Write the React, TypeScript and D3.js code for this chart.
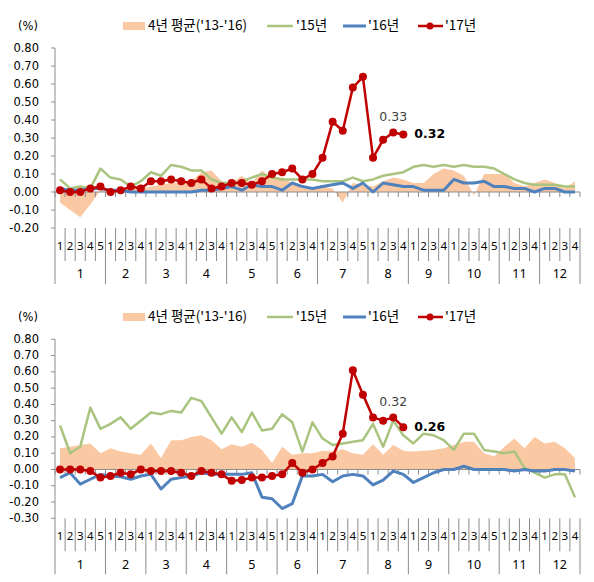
import * as d3 from 'd3';

// weeks in each month (category axis)
const weeksPerMonth = [5, 4, 4, 4, 5, 4, 5, 4, 4, 5, 4, 4];
const monthLabels = ['1', '2', '3', '4', '5', '6', '7', '8', '9', '10', '11', '12'];
const weekLabels = weeksPerMonth.flatMap((n) => d3.range(1, n + 1).map(String));

const seriesNames = ["4년 평균('13-'16)", "'15년", "'16년", "'17년"];

// upper panel
const avgTop = [
  -0.06, -0.10, -0.14, -0.07, 0.01,
  0.00, 0.01, 0.02, 0.02,
  0.03, 0.04, 0.05, 0.05,
  0.06, 0.11, 0.12, 0.06,
  0.05, 0.09, 0.05, 0.12, 0.08,
  0.08, 0.05, 0.02, 0.02,
  0.03, 0.02, -0.06, 0.05, 0.04,
  0.03, 0.06, 0.08, 0.07,
  0.05, 0.05, 0.10, 0.13,
  0.12, 0.09, -0.02, 0.10, 0.10,
  0.10, 0.05, 0.03, 0.05,
  0.07, 0.05, 0.02, 0.06,
];
const y15Top = [
  0.07, 0.02, 0.03, 0.02, 0.13,
  0.08, 0.07, 0.03, 0.06,
  0.11, 0.09, 0.15, 0.14,
  0.12, 0.12, 0.07, 0.05,
  0.05, 0.06, 0.08, 0.10, 0.08,
  0.07, 0.07, 0.07, 0.07,
  0.06, 0.06, 0.06, 0.08, 0.06,
  0.07, 0.09, 0.10, 0.11,
  0.14, 0.15, 0.14, 0.15,
  0.14, 0.15, 0.14, 0.14, 0.13,
  0.10, 0.07, 0.05, 0.04,
  0.04, 0.04, 0.03, 0.03,
];
const y16Top = [
  0.02, 0.01, 0.01, 0.02, 0.02,
  0.01, 0.01, 0.00, 0.00,
  0.00, 0.00, 0.00, 0.00,
  0.00, 0.01, 0.01, 0.02,
  0.03, 0.01, 0.04, 0.03, 0.03,
  0.01, 0.05, 0.03, 0.02,
  0.03, 0.04, 0.05, 0.02, 0.05,
  0.00, 0.05, 0.04, 0.03,
  0.03, 0.01, 0.01, 0.01,
  0.07, 0.05, 0.05, 0.06, 0.03,
  0.03, 0.02, 0.02, 0.00,
  0.02, 0.02, 0.00, 0.00,
];
const y17Top = [
  0.01, 0.00, 0.00, 0.02, 0.03,
  0.00, 0.01, 0.03, 0.02,
  0.06, 0.06, 0.07, 0.06,
  0.05, 0.07, 0.02, 0.03,
  0.05, 0.05, 0.04, 0.06, 0.10,
  0.11, 0.13, 0.07, 0.10,
  0.19, 0.39, 0.34, 0.58, 0.64,
  0.19, 0.29, 0.33, 0.32,
];

// lower panel
const avgBottom = [
  0.13, 0.14, 0.15, 0.16, 0.10,
  0.13, 0.11, 0.10, 0.09,
  0.16, 0.07, 0.18, 0.18,
  0.20, 0.21, 0.18, 0.125,
  0.155, 0.14, 0.165, 0.12, 0.04,
  0.14, 0.09, 0.10, 0.10,
  0.115, 0.11, 0.125, 0.10, 0.09,
  0.155, 0.09, 0.15, 0.115,
  0.11, 0.115, 0.12, 0.13,
  0.15, 0.17, 0.17, 0.10, 0.08,
  0.14, 0.19, 0.13, 0.20,
  0.16, 0.17, 0.13, 0.07,
];
const y15Bottom = [
  0.27, 0.10, 0.14, 0.38, 0.25,
  0.28, 0.32, 0.25, 0.30,
  0.35, 0.34, 0.36, 0.35,
  0.44, 0.42, 0.32, 0.22,
  0.32, 0.23, 0.35, 0.24, 0.25,
  0.34, 0.29, 0.11, 0.29,
  0.19, 0.15, 0.16, 0.17, 0.18,
  0.28, 0.14, 0.30, 0.21,
  0.16, 0.22, 0.21, 0.18,
  0.12, 0.22, 0.22, 0.12, 0.11,
  0.10, 0.11, 0.01, -0.02,
  -0.05, -0.03, -0.03, -0.17,
];
const y16Bottom = [
  -0.05, -0.02, -0.09, -0.06, -0.03,
  -0.04, -0.045, -0.06, -0.04,
  -0.03, -0.12, -0.06, -0.05,
  -0.04, -0.02, -0.03, -0.03,
  -0.03, -0.03, -0.02, -0.17, -0.18,
  -0.24, -0.21, -0.04, -0.04,
  -0.03, -0.075, -0.04, -0.03, -0.04,
  -0.095, -0.065, -0.01, -0.03,
  -0.08, -0.05, -0.02, 0.00,
  0.00, 0.02, 0.00, 0.00, 0.00,
  0.00, -0.01, 0.00, -0.01,
  -0.01, 0.00, 0.00, -0.01,
];
const y17Bottom = [
  0.00, 0.00, 0.00, -0.01, -0.05,
  -0.04, -0.02, -0.03, 0.00,
  -0.01, -0.01, -0.01, -0.02,
  -0.04, -0.01, -0.02, -0.03,
  -0.07, -0.065, -0.05, -0.05, -0.04,
  -0.03, 0.04, -0.02, 0.00,
  0.04, 0.08, 0.22, 0.61, 0.46,
  0.32, 0.30, 0.32, 0.26,
];

const yTicksTop = [-0.2, -0.1, 0, 0.1, 0.2, 0.3, 0.4, 0.5, 0.6, 0.7, 0.8];
const yTicksBottom = [-0.3, -0.2, -0.1, 0, 0.1, 0.2, 0.3, 0.4, 0.5, 0.6, 0.7, 0.8];

const C_AVG = '#fac9a3';
const C_15 = '#a9c47f';
const C_16 = '#4f81bd';
const C_17 = '#c00000';
const AXIS = '#8c8c8c';
const NUM_FONT = "'DejaVu Sans', sans-serif";
const KR_FONT = "'Noto Sans CJK KR', 'DejaVu Sans', sans-serif";
const CAT_FONT = "'Noto Sans', sans-serif";

const X0 = 55;
const X1 = 580;

interface PanelProps {
  legendY: number;
  plotTop: number;
  plotBottom: number;
  ticks: number[];
  avg: number[];
  s15: number[];
  s16: number[];
  s17: number[];
}

function Panel({ legendY, plotTop, plotBottom, ticks, avg, s15, s16, s17 }: PanelProps) {
  const x = d3.scaleBand<number>().domain(d3.range(weekLabels.length)).range([X0, X1]);
  const cx = (i: number) => (x(i) ?? 0) + x.bandwidth() / 2;
  const y = d3.scaleLinear().domain([ticks[0], ticks[ticks.length - 1]]).range([plotBottom, plotTop]);
  const y0 = y(0);

  const line = d3.line<number>().x((_, i) => cx(i)).y((d) => y(d));
  const area = d3.area<number>().x((_, i) => cx(i)).y0(y0).y1((d) => y(d));

  // boundaries between weeks and months
  const monthEnds = Array.from(d3.cumsum(weeksPerMonth));
  const monthStarts = [0, ...monthEnds.slice(0, -1)];
  const boundaries = d3.range(weekLabels.length + 1);

  const last = s17.length - 1;
  const fmt = d3.format('.2f');

  return (
    <g>
      {/* legend */}
      <text x={18} y={legendY} fontFamily={NUM_FONT} fontSize={11.5} fill="#000" dominantBaseline="middle">(%)</text>
      <rect x={123} y={legendY - 4} width={22} height={8} fill={C_AVG} />
      <text x={148} y={legendY} fontFamily={KR_FONT} fontSize={13.5} dominantBaseline="middle">{seriesNames[0]}</text>
      <line x1={267} x2={293} y1={legendY} y2={legendY} stroke={C_15} strokeWidth={2.5} />
      <text x={296} y={legendY} fontFamily={KR_FONT} fontSize={13.5} dominantBaseline="middle">{seriesNames[1]}</text>
      <line x1={343} x2={366} y1={legendY} y2={legendY} stroke={C_16} strokeWidth={3} />
      <text x={368} y={legendY} fontFamily={KR_FONT} fontSize={13.5} dominantBaseline="middle">{seriesNames[2]}</text>
      <line x1={418} x2={443} y1={legendY} y2={legendY} stroke={C_17} strokeWidth={2.5} />
      <circle cx={430} cy={legendY} r={3.5} fill={C_17} />
      <text x={445} y={legendY} fontFamily={KR_FONT} fontSize={13.5} dominantBaseline="middle">{seriesNames[3]}</text>

      {/* y axis */}
      <line x1={X0} x2={X0} y1={plotTop} y2={plotBottom} stroke={AXIS} />
      {ticks.map((t) => (
        <g key={t}>
          <line x1={X0 - 4} x2={X0} y1={y(t)} y2={y(t)} stroke={AXIS} />
          <text x={39} y={y(t)} textAnchor="end" dominantBaseline="middle" fontFamily={NUM_FONT} fontSize={11.5}>
            {t.toFixed(2)}
          </text>
        </g>
      ))}

      {/* series */}
      <path d={area(avg) ?? ''} fill={C_AVG} />

      {/* x axis at zero */}
      <line x1={X0} x2={X1} y1={y0} y2={y0} stroke={AXIS} />
      {boundaries.map((b) => {
        const bx = X0 + b * x.step();
        return <line key={b} x1={bx} x2={bx} y1={y0} y2={y0 + 5} stroke={AXIS} />;
      })}

      <path d={line(s15) ?? ''} fill="none" stroke={C_15} strokeWidth={2.5} strokeLinejoin="round" />
      <path d={line(s16) ?? ''} fill="none" stroke={C_16} strokeWidth={3} strokeLinejoin="round" />
      <path d={line(s17) ?? ''} fill="none" stroke={C_17} strokeWidth={2.5} strokeLinejoin="round" />
      {s17.map((d, i) => (
        <circle key={i} cx={cx(i)} cy={y(d)} r={4} fill={C_17} />
      ))}

      {/* value labels */}
      <text x={cx(last - 1)} y={y(s17[last - 1]) - 15} textAnchor="middle" dominantBaseline="middle"
        fontFamily={NUM_FONT} fontSize={12.5} fill="#404040">
        {fmt(s17[last - 1])}
      </text>
      <text x={cx(last) + 11} y={y(s17[last])} dominantBaseline="middle"
        fontFamily={NUM_FONT} fontSize={12.5} fontWeight="bold" fill="#000">
        {fmt(s17[last])}
      </text>

      {/* category labels */}
      {boundaries.map((b) => {
        const bx = X0 + b * x.step();
        const isMonth = b === 0 || monthEnds.includes(b);
        return (
          <line key={'s' + b} x1={bx} x2={bx} y1={plotBottom} y2={plotBottom + (isMonth ? 56 : 33)} stroke={AXIS} />
        );
      })}
      {weekLabels.map((w, i) => (
        <text key={'w' + i} x={cx(i)} y={plotBottom + 19} textAnchor="middle" dominantBaseline="middle"
          fontFamily={CAT_FONT} fontSize={11.5}>
          {w}
        </text>
      ))}
      {monthLabels.map((m, k) => {
        const a = X0 + monthStarts[k] * x.step();
        const b = X0 + monthEnds[k] * x.step();
        return (
          <text key={'m' + k} x={(a + b) / 2} y={plotBottom + 47} textAnchor="middle" dominantBaseline="middle"
            fontFamily={CAT_FONT} fontSize={12.5}>
            {m}
          </text>
        );
      })}
    </g>
  );
}

export default function App() {
  return (
    <svg width={594} height={582} style={{ position: 'absolute', left: 0, top: 0, background: '#fff' }}>
      <Panel legendY={26} plotTop={48} plotBottom={228} ticks={yTicksTop}
        avg={avgTop} s15={y15Top} s16={y16Top} s17={y17Top} />
      <Panel legendY={317} plotTop={339.3} plotBottom={518.3} ticks={yTicksBottom}
        avg={avgBottom} s15={y15Bottom} s16={y16Bottom} s17={y17Bottom} />
    </svg>
  );
}
